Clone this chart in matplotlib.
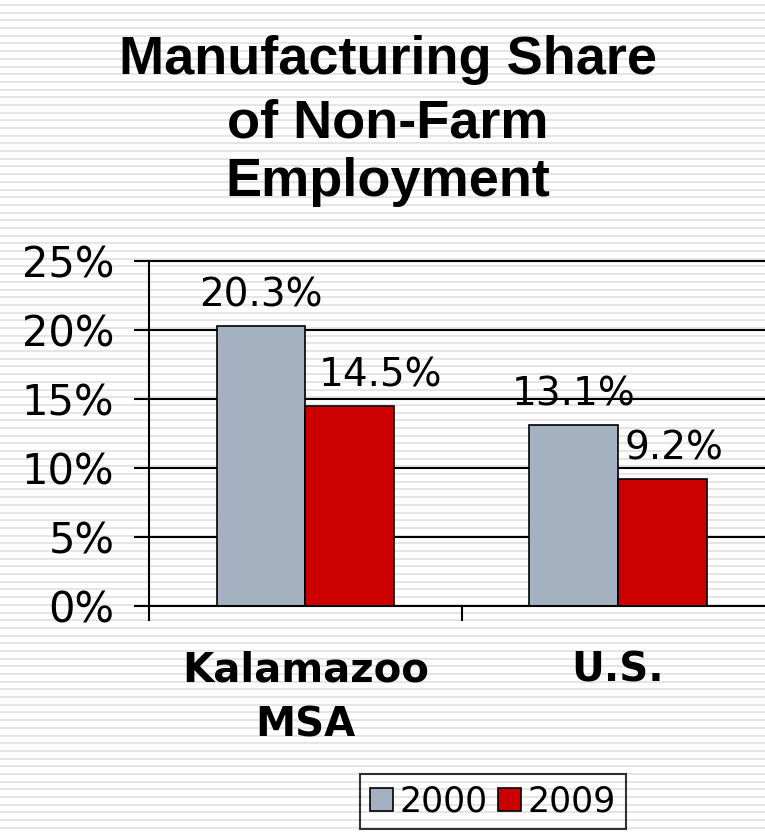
import numpy as np
import matplotlib
matplotlib.use("Agg")
import matplotlib.pyplot as plt
from matplotlib.patches import Patch

title_lines = ["Manufacturing Share", "of Non-Farm", "Employment"]
categories = ["Kalamazoo\nMSA", "U.S."]
years = ["2000", "2009"]
share_2000 = [20.3, 13.1]
share_2009 = [14.5, 9.2]
y_ticks = [0, 5, 10, 15, 20, 25]
colors = ["#A3B1C1", "#CC0000"]

W, H = 765, 834
fig = plt.figure(figsize=(W / 100, H / 100), dpi=100)
plt.rcParams["font.family"] = ["DejaVu Sans"]

# striped background
bg = fig.add_axes([0, 0, 1, 1], zorder=-1)
bg.set_xlim(0, W)
bg.set_ylim(H, 0)
bg.hlines(np.arange(5, H, 7.69), 0, W, color="#e3e3e3", lw=1.3)
bg.axis("off")

# plot area in pixel coords
left, right, top, bottom = 149, 774, 261, 606
ax = fig.add_axes([left / W, 1 - bottom / H, (right - left) / W, (bottom - top) / H])
ax.set_facecolor("none")

x = np.arange(len(categories)) + 0.5
bw = 0.284
ax.bar(x - bw / 2, share_2000, bw, color=colors[0], edgecolor="black", lw=1.2, zorder=3, label=years[0])
ax.bar(x + bw / 2, share_2009, bw, color=colors[1], edgecolor="black", lw=1.2, zorder=3, label=years[1])

ax.set_xlim(0, len(categories))
ax.set_ylim(0, 25)
ax.set_yticks(y_ticks)
ax.set_yticklabels([f"{v}%" for v in y_ticks], fontsize=30)
for v in y_ticks[1:]:
    ax.axhline(v, color="black", lw=1.5, zorder=1, clip_on=False)

ax.set_xticks(np.arange(len(categories) + 1))
ax.set_xticklabels([])
ax.set_xticks(x, minor=True)
ax.set_xticklabels(categories, minor=True, fontsize=29, fontweight="bold", linespacing=1.5)
ax.tick_params(axis="x", which="minor", length=0, pad=32)
ax.tick_params(axis="x", which="major", length=11, width=1.5, direction="out")
ax.tick_params(axis="y", length=11, width=1.5, direction="out", pad=14)

for s in ["top", "right"]:
    ax.spines[s].set_visible(False)
for s in ["left", "bottom"]:
    ax.spines[s].set_linewidth(1.5)
    ax.spines[s].set_zorder(4)

# value labels
dx_2009 = [31, 12]
for i in range(len(categories)):
    ax.annotate(f"{share_2000[i]}%", (x[i] - bw / 2, share_2000[i]), xytext=(0, 14),
                textcoords="offset points", ha="center", va="baseline", fontsize=28)
    ax.annotate(f"{share_2009[i]}%", (x[i] + bw / 2, share_2009[i]), xytext=(dx_2009[i] * 0.72, 14),
                textcoords="offset points", ha="center", va="baseline", fontsize=28)

# title
baselines = [74, 137, 196]
for line, yb in zip(title_lines, baselines):
    fig.text(388 / W, 1 - yb / H, line, ha="center", va="baseline", fontsize=39,
             fontweight="bold", family=["Liberation Sans"])

handles = [Patch(facecolor=c, edgecolor="black", lw=1.2) for c in colors]
leg = fig.legend(handles, years, loc="upper center", bbox_to_anchor=(493 / W, 1 - 774 / H),
                 ncol=2, fontsize=25, frameon=True, fancybox=False, edgecolor="black",
                 handlelength=0.65, handleheight=0.65, handletextpad=0.2, columnspacing=0.3,
                 borderpad=0.3, borderaxespad=0)
leg.get_frame().set_linewidth(1.5)
leg.get_frame().set_facecolor("none")

fig.savefig("out.png", dpi=100)
